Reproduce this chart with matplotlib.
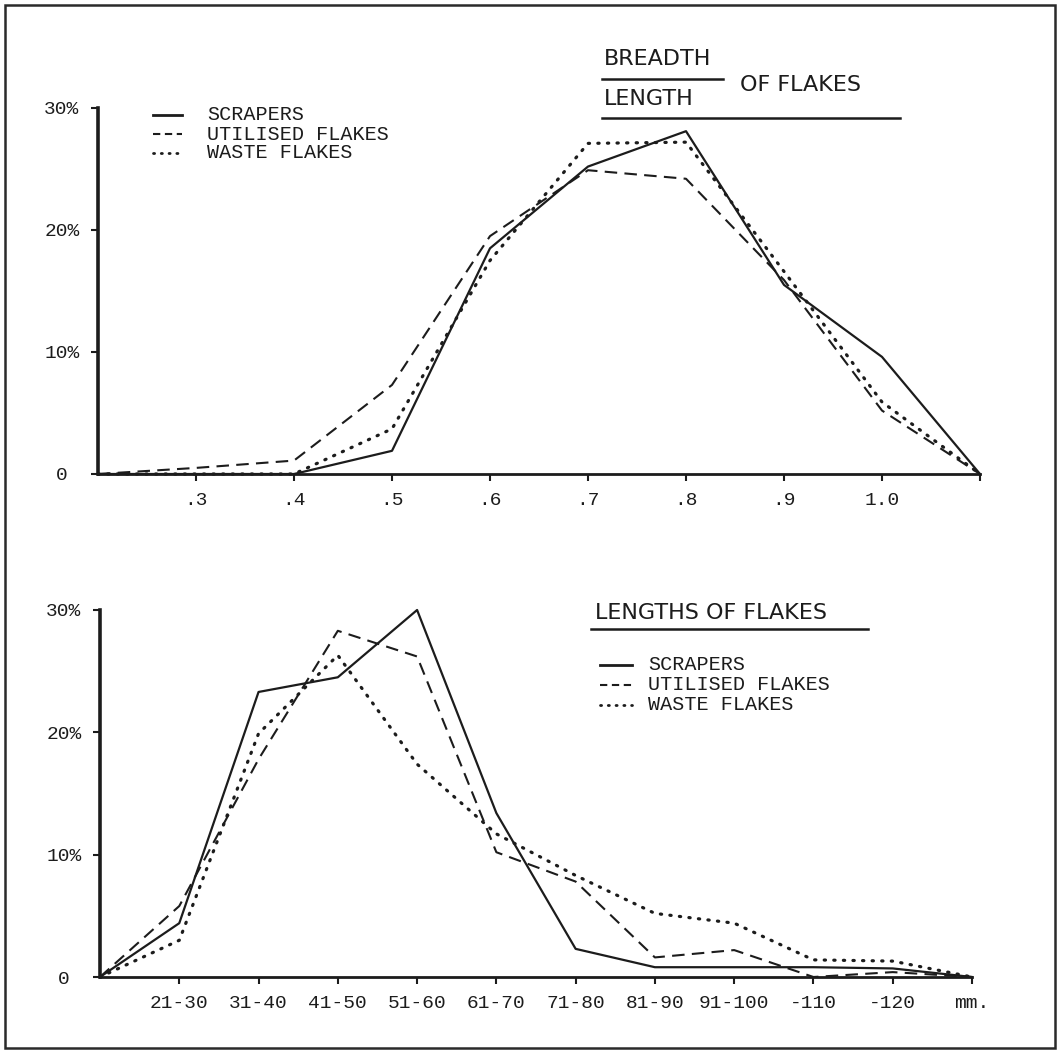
import matplotlib
matplotlib.use("Agg")
import matplotlib.pyplot as plt
from matplotlib.lines import Line2D
from matplotlib.patches import Rectangle

# breadth/length ratio panel
ratio_x = [0.2, 0.3, 0.4, 0.5, 0.6, 0.7, 0.8, 0.9, 1.0, 1.1]
ratio_ticks = [0.3, 0.4, 0.5, 0.6, 0.7, 0.8, 0.9, 1.0, 1.1]
ratio_labels = [".3", ".4", ".5", ".6", ".7", ".8", ".9", "1.0", ""]
ratio_scrapers = [0, 0, 0, 1.9, 18.5, 25.2, 28.1, 15.5, 9.6, 0]
ratio_utilised = [0, 0.5, 1.1, 7.3, 19.5, 24.9, 24.2, 15.9, 5.2, 0]
ratio_waste = [0, 0, 0, 3.7, 17.5, 27.1, 27.2, 16.6, 5.9, 0]

# length panel
len_labels = ["21-30", "31-40", "41-50", "51-60", "61-70", "71-80",
              "81-90", "91-100", "-110", "-120", "mm."]
len_scrapers = [0, 4.4, 23.3, 24.5, 30.0, 13.4, 2.3, 0.8, 0.8, 0.8, 0.7, 0]
len_utilised = [0, 5.8, 17.8, 28.3, 26.2, 10.2, 7.8, 1.6, 2.2, 0, 0.4, 0]
len_waste = [0, 3.0, 19.9, 26.3, 17.4, 11.7, 8.3, 5.2, 4.4, 1.4, 1.3, 0]

y_ticks = [0, 10, 20, 30]
y_labels = ["0", "10%", "20%", "30%"]
series_names = ["SCRAPERS", "UTILISED FLAKES", "WASTE FLAKES"]

INK = "#1c1c1c"
MONO = "Liberation Mono"
SANS = "DejaVu Sans"
W, H = 1062, 1051

styles = [
    dict(ls="-", lw=1.6),
    dict(ls=(0, (6, 3.5)), lw=1.5),
    dict(ls=(0, (0.4, 2.6)), lw=2.3, dash_capstyle="round"),
]
# shorter marks for the little legend samples
key_styles = [
    dict(ls="-", lw=2.0),
    dict(ls=(0, (3.5, 2.2)), lw=1.5),
    dict(ls=(0, (0.4, 2.4)), lw=2.0, dash_capstyle="round"),
]


def fx(px):
    return px / W


def fy(py):
    return 1 - py / H


def style_axes(ax):
    for s in ("top", "right"):
        ax.spines[s].set_visible(False)
    ax.spines["left"].set_linewidth(2.6)
    ax.spines["bottom"].set_linewidth(2.0)
    ax.spines["left"].set_color(INK)
    ax.spines["bottom"].set_color(INK)
    ax.set_ylim(0, 30)
    ax.set_yticks(y_ticks)
    ax.set_yticklabels(y_labels, fontfamily=MONO, fontsize=14, color=INK)
    for lab in ax.get_yticklabels():
        lab.set_horizontalalignment("center")
    ax.tick_params(axis="y", length=5, width=1.5, pad=21, colors=INK)
    ax.tick_params(axis="x", length=5, width=1.5, pad=8, colors=INK)
    ax.patch.set_alpha(0)


def legend(fig, x0, x1, xt, ys):
    for st, name, y in zip(key_styles, series_names, ys):
        fig.add_artist(Line2D([fx(x0), fx(x1)], [fy(y), fy(y)], color=INK, **st))
        fig.text(fx(xt), fy(y), name, fontfamily=MONO, fontsize=14.5,
                 color=INK, va="center", ha="left")


fig = plt.figure(figsize=(10.62, 10.51), dpi=100)

# frame round the whole plate
fig.add_artist(Rectangle((fx(5), fy(1048)), fx(1055) - fx(5), fy(5) - fy(1048),
                         fill=False, lw=1.8, edgecolor="#2a2a2a"))

ax1 = fig.add_axes([fx(98), fy(474), fx(980) - fx(98), fy(108) - fy(474)])
for ys, st in zip([ratio_scrapers, ratio_utilised, ratio_waste], styles):
    ax1.plot(ratio_x, ys, color=INK, clip_on=False, **st)
ax1.set_xlim(0.2, 1.1)
ax1.set_xticks(ratio_ticks)
ax1.set_xticklabels(ratio_labels, fontfamily=MONO, fontsize=14, color=INK)
style_axes(ax1)

ax2 = fig.add_axes([fx(100), fy(977), fx(972) - fx(100), fy(610) - fy(977)])
idx = list(range(len(len_scrapers)))
for ys, st in zip([len_scrapers, len_utilised, len_waste], styles):
    ax2.plot(idx, ys, color=INK, clip_on=False, **st)
ax2.set_xlim(0, 11)
ax2.set_xticks(idx[1:])
ax2.set_xticklabels(len_labels, fontfamily=MONO, fontsize=14, color=INK)
style_axes(ax2)

# top title: breadth over length, of flakes
title_kw = dict(fontfamily=SANS, fontsize=16, color=INK, va="center", ha="left")
fig.text(fx(604), fy(59), "BREADTH", **title_kw)
fig.add_artist(Line2D([fx(602), fx(723)], [fy(79), fy(79)], color=INK, lw=1.8))
fig.text(fx(604), fy(99), "LENGTH", **title_kw)
fig.text(fx(740), fy(85), "OF FLAKES", **title_kw)
fig.add_artist(Line2D([fx(602), fx(900)], [fy(118), fy(118)], color=INK, lw=1.8))
legend(fig, 153, 182, 207, [115, 134, 153])

# bottom title
fig.text(fx(595), fy(613), "LENGTHS OF FLAKES", **title_kw)
fig.add_artist(Line2D([fx(591), fx(868)], [fy(629), fy(629)], color=INK, lw=1.8))
legend(fig, 600, 632, 648, [665, 685, 705])

fig.savefig("out.png", dpi=100)
